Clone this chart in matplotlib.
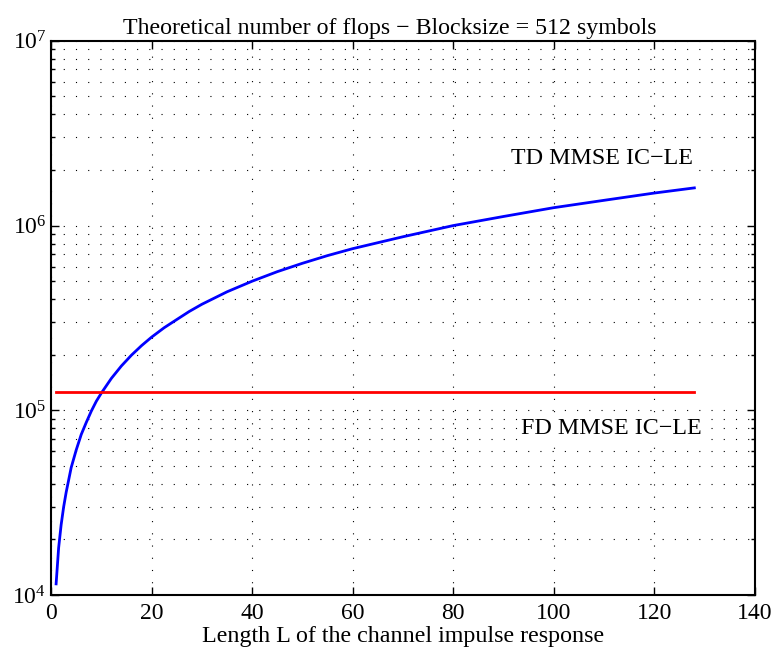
import numpy as np
import matplotlib
matplotlib.use('Agg')
import matplotlib.pyplot as plt
from matplotlib.ticker import LogLocator, LogFormatterMathtext, MultipleLocator

plt.rcParams['font.family'] = ['Liberation Serif', 'DejaVu Serif']
plt.rcParams['mathtext.fontset'] = 'stix'

# values
L_td = [1, 1.5, 2, 2.5, 3, 4, 5, 6, 7, 8, 9, 10, 12, 14, 16, 18, 20, 22.5,
        25, 27.5, 30, 35, 40, 45, 50, 55, 60, 70, 80, 90, 100, 110, 120, 128]
flops_td = [1.15e4, 1.8e4, 2.4e4, 3.0e4, 3.6e4, 4.9e4, 6.1e4, 7.4e4, 8.6e4,
            9.9e4, 1.12e5, 1.24e5, 1.49e5, 1.74e5, 1.99e5, 2.24e5, 2.49e5,
            2.8e5, 3.1e5, 3.43e5, 3.75e5, 4.38e5, 5.0e5, 5.63e5, 6.25e5,
            6.88e5, 7.5e5, 8.7e5, 1.0e6, 1.12e6, 1.25e6, 1.37e6, 1.5e6, 1.6e6]
L_fd = [1, 128]
flops_fd = [1.25e5, 1.25e5]

title = 'Theoretical number of flops \u2212 Blocksize = 512 symbols'
xlabel = 'Length L of the channel impulse response'
label_td = 'TD MMSE IC\u2212LE'
label_fd = 'FD MMSE IC\u2212LE'

fig = plt.figure(figsize=(7.74, 6.59), dpi=100)
ax = fig.add_axes([0.066, 0.097, 0.909, 0.841])

ax.semilogy(L_td, flops_td, color='#0000ff', lw=2)
ax.semilogy(L_fd, flops_fd, color='#ff0000', lw=2)

ax.set_xlim(0, 140)
ax.set_ylim(1e4, 1e7)
ax.xaxis.set_major_locator(MultipleLocator(20))
ax.yaxis.set_major_locator(LogLocator(base=10))
ax.yaxis.set_minor_locator(LogLocator(base=10, subs=np.arange(2, 10)))
ax.yaxis.set_major_formatter(LogFormatterMathtext())

dots = (0, (1, 10))
ax.grid(True, which='major', axis='both', color='black', lw=0.8, linestyle=dots)
ax.grid(True, which='minor', axis='y', color='black', lw=0.8, linestyle=dots)

ax.tick_params(which='both', direction='in', top=True, right=True, labelsize=17)
ax.tick_params(which='major', length=6, width=1)
ax.tick_params(which='minor', length=3, width=1)
ax.tick_params(axis='x', pad=6)
for s in ax.spines.values():
    s.set_linewidth(1.5)

ax.text(109.6, 2.3e6, label_td, fontsize=17.3, ha='center', va='center',
        bbox=dict(facecolor='white', edgecolor='none', pad=2))
ax.text(111.4, 8.0e4, label_fd, fontsize=17.3, ha='center', va='center',
        bbox=dict(facecolor='white', edgecolor='none', pad=2))

ax.set_title(title, fontsize=17.2, pad=5, x=0.4815)
ax.set_xlabel(xlabel, fontsize=17.3, labelpad=1)

fig.savefig('out.png', dpi=100)
